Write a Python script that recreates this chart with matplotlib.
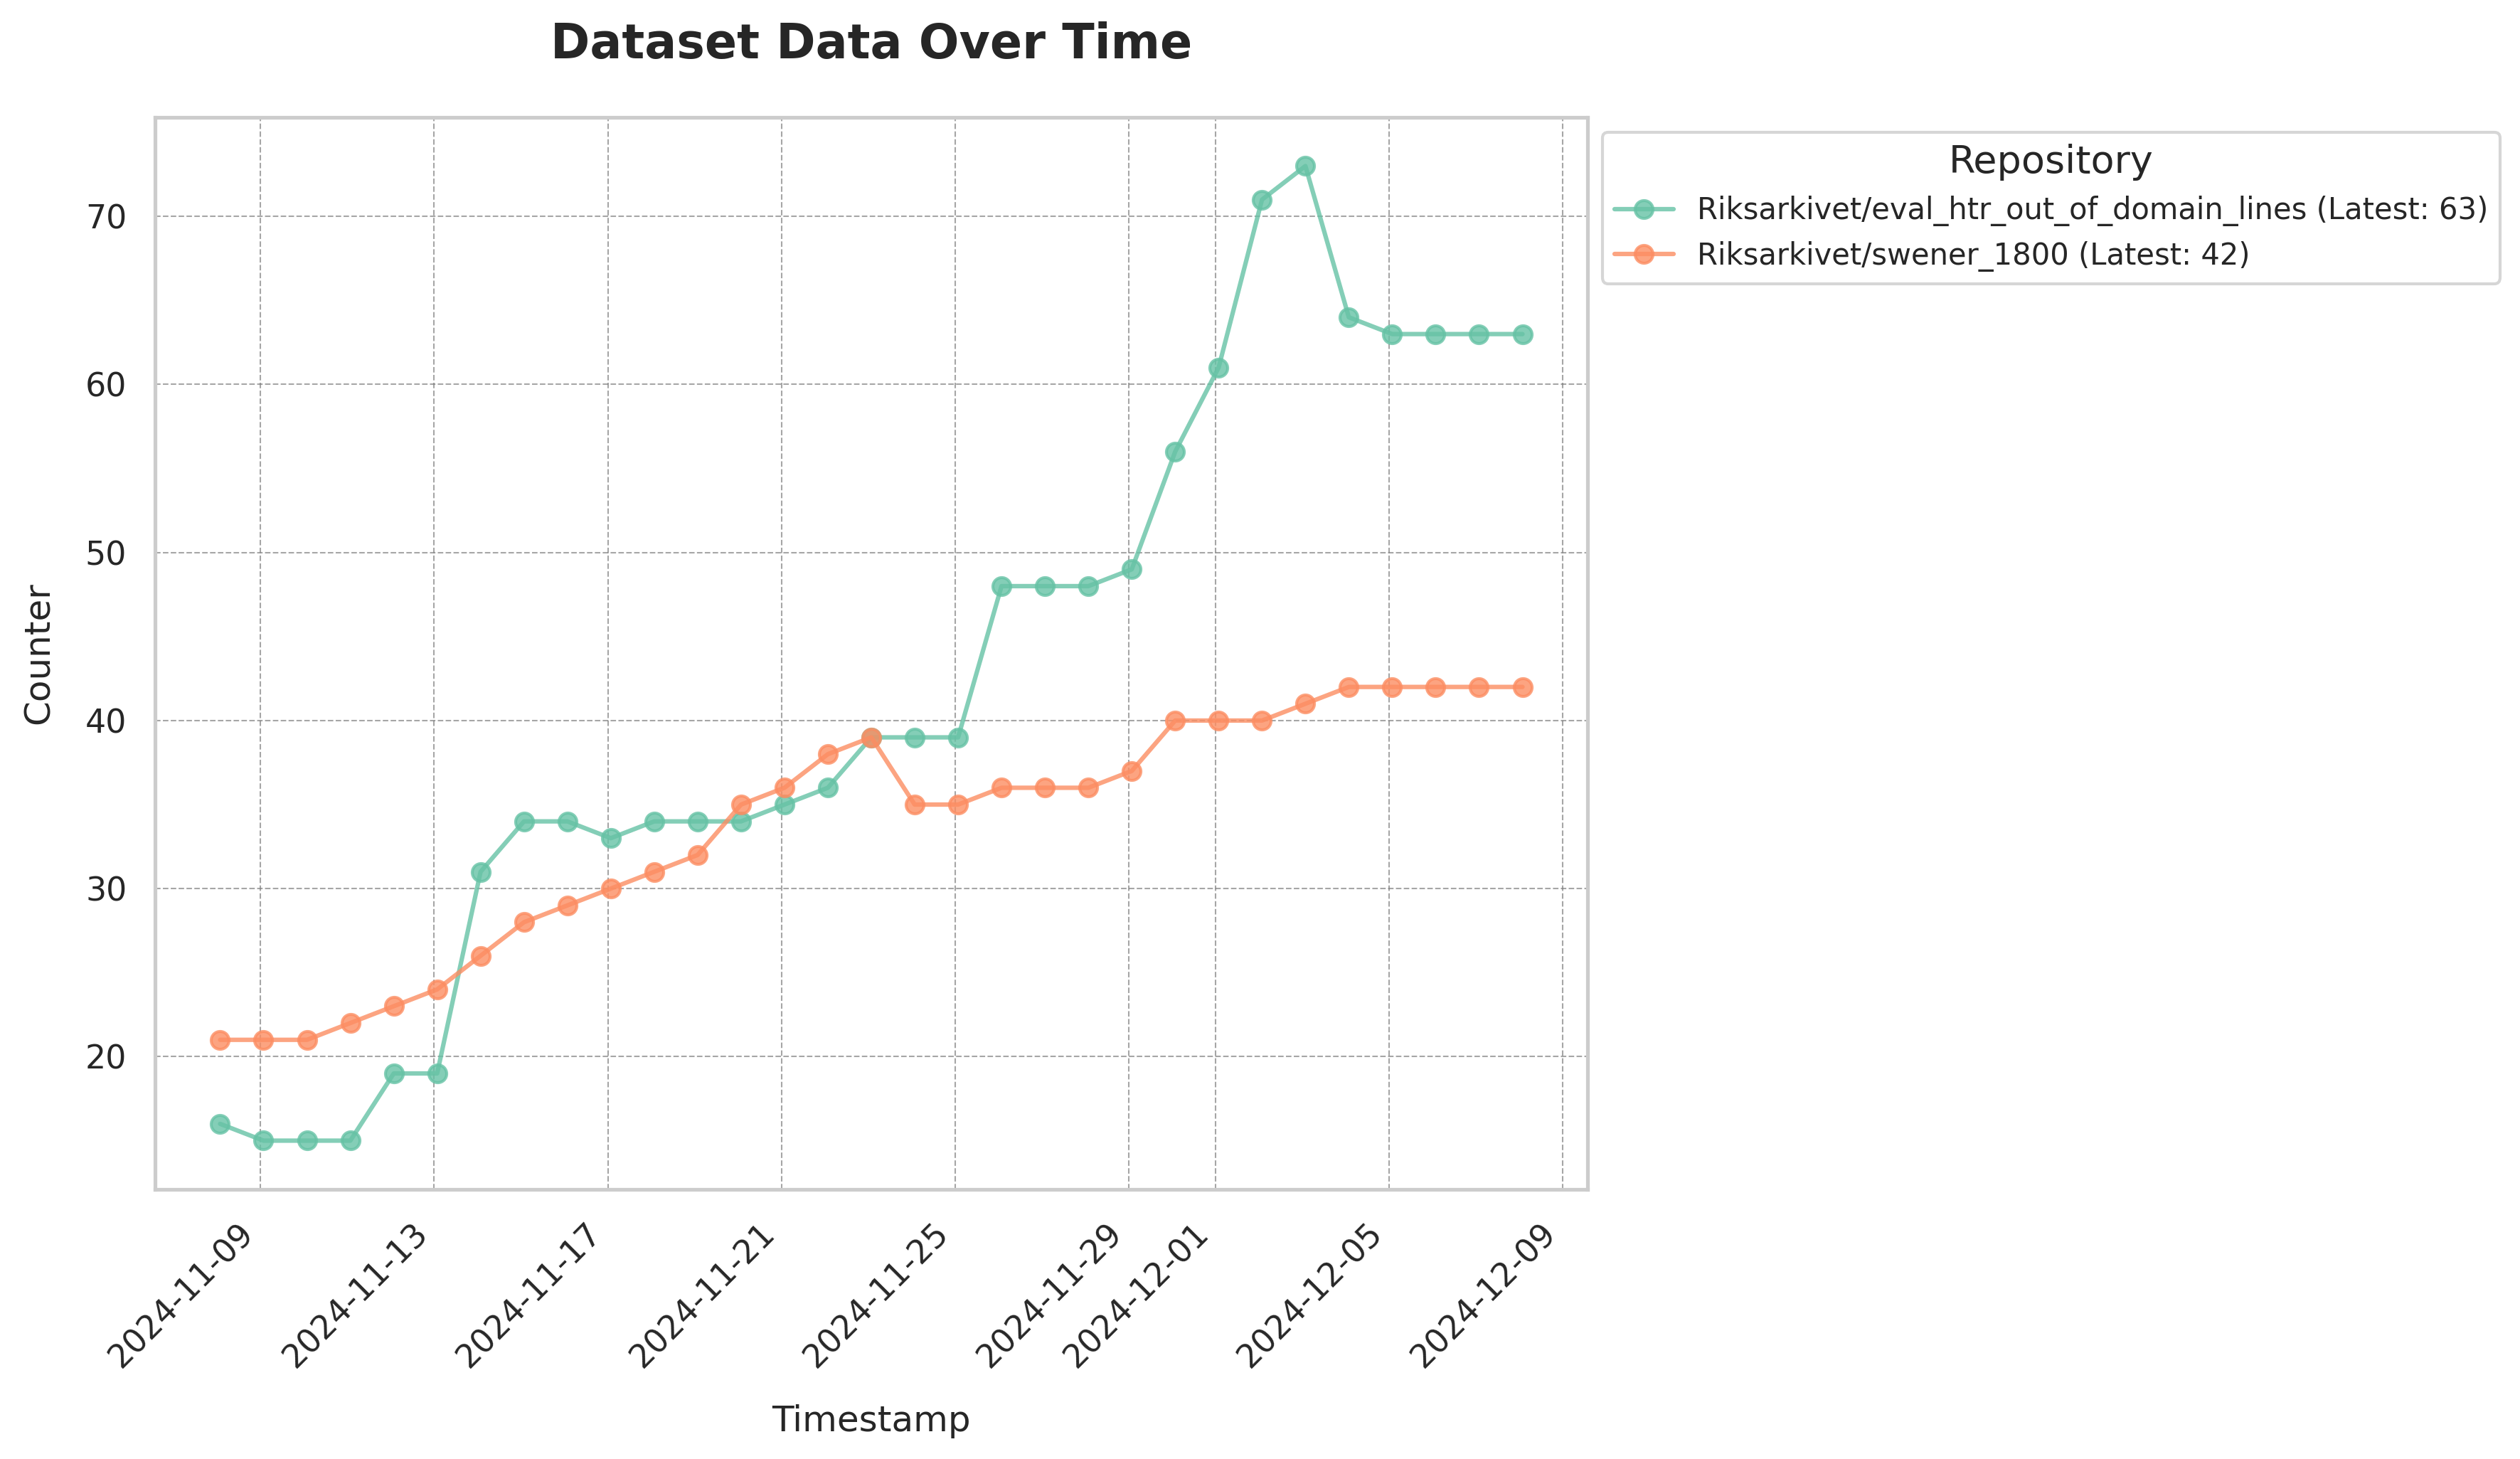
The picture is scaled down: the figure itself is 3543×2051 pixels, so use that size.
import pandas as pd
import matplotlib.pyplot as plt
import seaborn as sns

# daily snapshots (taken a little after midnight)
timestamps = pd.date_range("2024-11-08 01:40", "2024-12-08 01:40", freq="D")

repo_names = ["Riksarkivet/eval_htr_out_of_domain_lines", "Riksarkivet/swener_1800"]

eval_htr_counts = [16, 15, 15, 15, 19, 19, 31, 34, 34, 33, 34, 34, 34, 35, 36, 39,
                   39, 39, 48, 48, 48, 49, 56, 61, 71, 73, 64, 63, 63, 63, 63]
swener_counts = [21, 21, 21, 22, 23, 24, 26, 28, 29, 30, 31, 32, 35, 36, 38, 39,
                 35, 35, 36, 36, 36, 37, 40, 40, 40, 41, 42, 42, 42, 42, 42]

df = pd.DataFrame({"timestamp": timestamps,
                   repo_names[0]: eval_htr_counts,
                   repo_names[1]: swener_counts})

sns.set_theme(style="whitegrid", palette="Set2")
plt.rcParams["font.family"] = ["DejaVu Sans"]

fig = plt.figure(figsize=(3543 / 300, 2051 / 300), dpi=300)
ax = fig.add_axes([0.0615, 0.1848, 0.5685, 0.7348])

for repo in repo_names:
    last = df[repo].iloc[-1]
    ax.plot(df["timestamp"], df[repo], marker="o", alpha=0.8,
            label=f"{repo} (Latest: {last})")

ax.set_title("Dataset Data Over Time", fontsize=16, fontweight="bold", pad=20)
ax.set_xlabel("Timestamp", fontsize=12, labelpad=10)
ax.set_ylabel("Counter", fontsize=12, labelpad=10)
ax.grid(True, linestyle="--", linewidth=0.5, color="gray", alpha=0.7)
plt.setp(ax.get_xticklabels(), rotation=45, ha="right")

ax.legend(title="Repository", bbox_to_anchor=(1, 1), loc="upper left",
          fontsize=10, title_fontsize=13)

fig.savefig("out.png", dpi=300)
plt.close(fig)
